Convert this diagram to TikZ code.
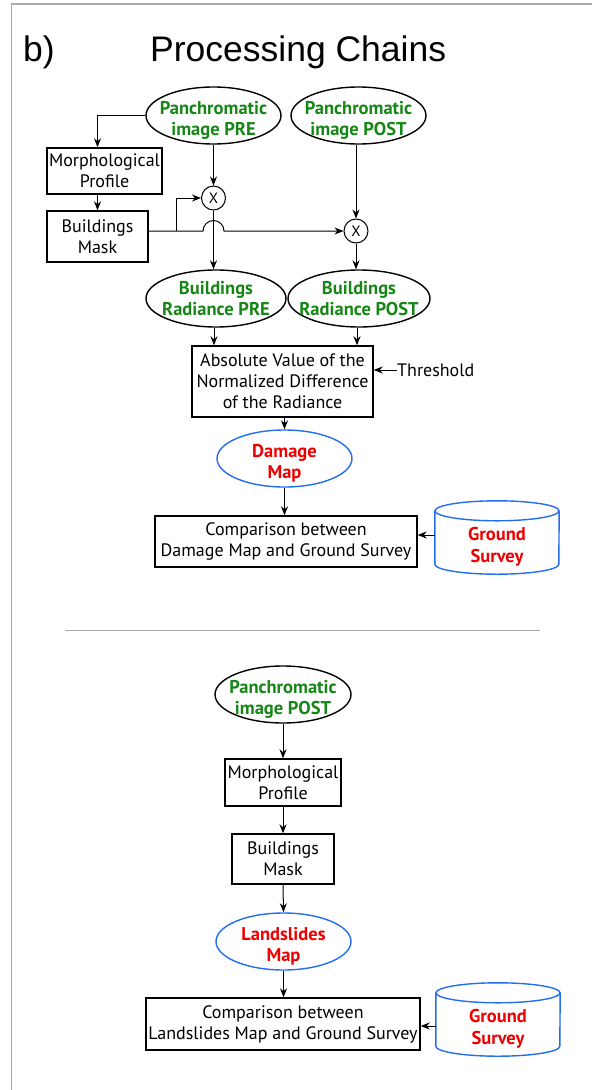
\documentclass[tikz,border=0pt]{standalone}
\usepackage{fontspec}
\setmainfont{PT Sans}
\newfontfamily\titlefont{Liberation Sans}
\usetikzlibrary{shapes.geometric,arrows.meta,calc}
\definecolor{lgreen}{RGB}{22,135,22}
\definecolor{lred}{RGB}{238,0,0}
\definecolor{lblue}{RGB}{35,110,240}
\definecolor{framegray}{RGB}{170,170,170}
\newcommand{\zline}[1]{\makebox[0pt]{#1}}
\begin{document}
\begin{tikzpicture}[x=1pt,y=-1pt,
  every node/.style={font=\fontsize{18}{21}\selectfont},
  procbox/.style={draw, line width=1.4pt, align=center, inner sep=0pt},
  inell/.style={ellipse, draw, line width=1.4pt, align=center, inner sep=0pt, text height=40pt, text depth=0pt, text=lgreen, font=\fontsize{18.5}{21.5}\selectfont\bfseries},
  outell/.style={inell, draw=lblue, text=lred},
  mult/.style={circle, draw, line width=1pt, minimum size=24pt, inner sep=0pt, font=\fontsize{15}{15}\selectfont},
  arr/.style={-{Stealth[length=9pt,width=7pt]}, line width=1pt},
  cylbox/.style={inner sep=0pt, align=center, text=lred, font=\fontsize{18.5}{22}\selectfont\bfseries, minimum width=124pt, minimum height=55pt},
  cyldraw/.style={draw=lblue, line width=1.4pt},
  titletext/.style={font=\titlefont\fontsize{35.5}{40}\selectfont, anchor=base west, inner sep=0pt}
]
\fill[white] (0,0) rectangle (592,1090);
\useasboundingbox (0,0) rectangle (592,1090);
\draw[framegray, line width=1.5pt] (592,4) -- (11.5,4) -- (11.5,1090);

\node[titletext] (blab) at (23,61) {b)};
\node[titletext] (title) at (150,61) {Processing Chains};

% top chain
\node[inell, minimum width=135pt, minimum height=57pt] (pre) at (213.5,115.5) {\zline{Panchromatic}\\\zline{image PRE}};
\node[inell, minimum width=135pt, minimum height=57pt] (post) at (358.5,115.5) {\zline{Panchromatic}\\\zline{image POST}};
\node[procbox, minimum width=115pt, minimum height=46pt] (morph1) at (104.5,171) {Morphological\\Profile};
\node[procbox, minimum width=101pt, minimum height=51pt] (mask1) at (97.5,236.5) {Buildings\\Mask};
\node[mult] (x1) at (213.5,198) {X};
\node[mult] (x2) at (356,231) {X};
\node[inell, text height=34pt, minimum width=140pt, minimum height=57pt] (radpre) at (216,298.5) {\zline{Buildings}\\\zline{Radiance PRE}};
\node[inell, text height=34pt, minimum width=142pt, minimum height=57pt] (radpost) at (359,298.5) {\zline{Buildings}\\\zline{Radiance POST}};
\node[procbox, minimum width=181pt, minimum height=71pt] (absd) at (282.5,381.5) {Absolute Value of the\\Normalized Difference\\of the Radiance};
\node[anchor=west, inner sep=0pt] (thr) at (397,370) {Threshold};
\node[outell, minimum width=135pt, minimum height=57pt] (dmg) at (284.5,458.5) {\zline{Damage}\\\zline{Map}};
\node[procbox, minimum width=262pt, minimum height=51pt] (cmp1) at (286,541.5) {Comparison between\\Damage Map and Ground Survey};
\node[cylbox] (gs1) at (497,546.5) {Ground\\Survey};
\draw[cyldraw] ($(gs1.north)+(0,-8)$) ellipse[x radius=62, y radius=10];
\draw[cyldraw] ($(gs1.north west)+(0,-8)$) -- ($(gs1.south west)+(0,-10)$) arc[start angle=180, end angle=0, x radius=62, y radius=10] -- ($(gs1.north east)+(0,-8)$);

\coordinate (br) at (176,231);
\draw[arr] (pre.west) -| (mask1.center |- morph1.north);
\draw[arr] (mask1.center |- morph1.south) -- (mask1.north);
\draw[arr] (pre.south) -- (x1.north);
\draw[arr] (post.south -| x2.north) -- (x2.north);
\draw[arr] (mask1.east |- x2.west) -- ($(x1.center |- x2.west)+(-10.5,0)$) arc[start angle=180, end angle=360, radius=10.5] -- (x2.west);
\draw[arr] (br) |- (x1.west);
\draw[arr] (x1.south) -- (x1.south |- radpre.north);
\draw[arr] (x2.south) -- (x2.south |- radpost.north);
\draw[arr] ($(radpre.south)+(-2,0)$) -- ($(radpre.south |- absd.north)+(-2,0)$);
\draw[arr] ($(radpost.south)+(-2,0)$) -- ($(radpost.south |- absd.north)+(-2,0)$);
\draw[arr] (thr.west) -- (absd.east |- thr.west);
\draw[arr] (dmg.north |- absd.south) -- (dmg.north);
\draw[arr] (dmg.south) -- (dmg.south |- cmp1.north);
\draw[arr] (gs1.west |- 0,535) -- (cmp1.east |- 0,535);

% separator
\draw[framegray, line width=1pt] (65,630) -- (540,630);

% bottom chain
\node[inell, minimum width=136pt, minimum height=57pt] (post2) at (283,694.5) {\zline{Panchromatic}\\\zline{image POST}};
\node[procbox, minimum width=116pt, minimum height=47pt] (morph2) at (283,782.5) {Morphological\\Profile};
\node[procbox, minimum width=102pt, minimum height=50pt] (mask2) at (283,859) {Buildings\\Mask};
\node[outell, minimum width=135pt, minimum height=57pt] (land) at (283.5,941.5) {\zline{Landslides}\\\zline{Map}};
\node[procbox, minimum width=274pt, minimum height=52pt] (cmp2) at (283,1024) {Comparison between\\Landslides Map and Ground Survey};
\node[cylbox] (gs2) at (498,1028.5) {Ground\\Survey};
\draw[cyldraw] ($(gs2.north)+(0,-8)$) ellipse[x radius=62, y radius=10];
\draw[cyldraw] ($(gs2.north west)+(0,-8)$) -- ($(gs2.south west)+(0,-10)$) arc[start angle=180, end angle=0, x radius=62, y radius=10] -- ($(gs2.north east)+(0,-8)$);

\draw[arr] (post2.south) -- (morph2.north);
\draw[arr] (morph2.south) -- (mask2.north);
\draw[arr] (mask2.south) -- (land.north);
\draw[arr] (land.south) -- (land.south |- cmp2.north);
\draw[arr] (gs2.west |- 0,1026) -- (cmp2.east |- 0,1026);
\end{tikzpicture}
\end{document}
